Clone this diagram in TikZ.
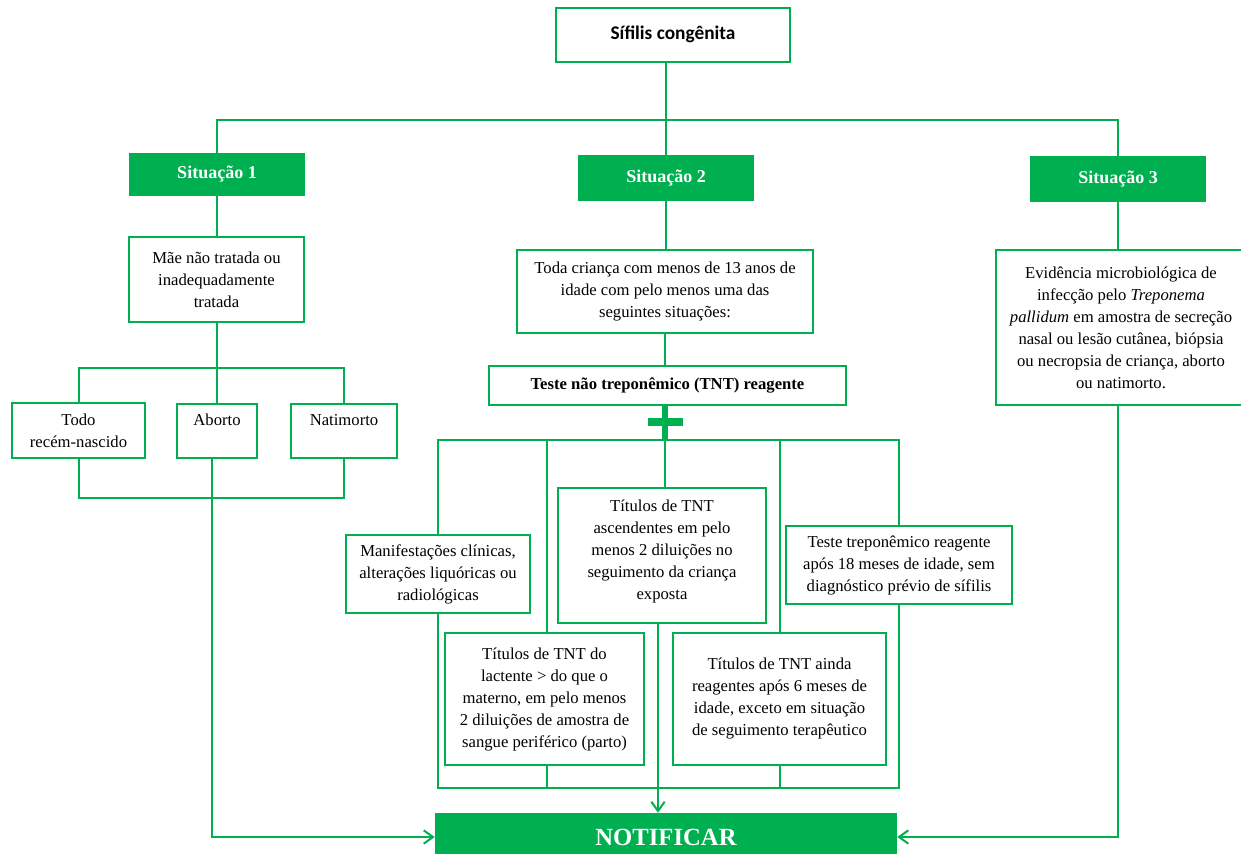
\documentclass[tikz,border=0pt]{standalone}
\usepackage{fontspec}
\setmainfont{Liberation Serif}
\newfontfamily\calib{Carlito}
\usetikzlibrary{arrows.meta,calc}
\definecolor{gr}{HTML}{00B050}
\begin{document}
\begin{tikzpicture}[x=0.75pt,y=-0.75pt,
  box/.style={draw=gr,line width=2.1pt,fill=white,align=center,inner sep=2pt,
    font=\fontsize{12.5}{16.5}\selectfont},
  sit/.style={fill=gr,text=white,align=center,inner sep=0pt,
    font=\bfseries\fontsize{13.5}{16}\selectfont,minimum width=132pt},
  ln/.style={draw=gr,line width=1.5pt},
  arr/.style={ln,-{Straight Barb[length=7pt,width=10pt,line width=1.5pt]}}
]
\clip (0,0) rectangle (1241,853);
\useasboundingbox (0,0) rectangle (1241,853);
\fill[white] (0,0) rectangle (1241,853);

% coordinates for bus lines
\coordinate (h1) at (665,120);
\coordinate (h2) at (218,368);
\coordinate (h3) at (218,498);
\coordinate (h4) at (665,440);
\coordinate (h5) at (665,788);
\coordinate (plus) at (665,422);

% nodes
\node[box,minimum width=175.5pt,minimum height=40.5pt,font=\calib\bfseries\fontsize{14.5}{16}\selectfont] (top) at (673,35) {Sífilis congênita\\[-12pt]\mbox{}};
\node[sit,minimum height=32.25pt] (s1) at (217,174.5) {Situação 1};
\node[sit,minimum height=34.5pt] (s2) at (666,178) {Situação 2};
\node[sit,minimum height=34.5pt] (s3) at (1118,179) {Situação 3};

\node[box,minimum width=131.25pt,minimum height=63.75pt] (mae) at (216.5,279.5) {Mãe não tratada ou\\inadequadamente\\tratada};
\node[box,minimum width=99.75pt,minimum height=41.25pt] (todo) at (78.5,430.5) {Todo\\recém-nascido};
\node[box,minimum width=60pt,minimum height=40.5pt] (aborto) at (217,431) {Aborto\\\mbox{}};
\node[box,minimum width=79.5pt,minimum height=40.5pt] (nati) at (344,431) {Natimorto\\\mbox{}};

\node[box,minimum width=222pt,minimum height=62.25pt] (toda) at (665,291.5) {Toda criança com menos de 13 anos de\\idade com pelo menos uma das\\seguintes situações:};
\node[box,minimum width=267.75pt,minimum height=29.25pt,font=\bfseries\fontsize{12.5}{16.5}\selectfont] (tnt) at (667.5,385.5) {Teste não treponêmico (TNT) reagente};

\node[box,minimum width=187.5pt,minimum height=116.25pt] (evid) at (1121,327.5) {Evidência microbiológica de\\infecção pelo \textit{Treponema}\\\textit{pallidum} em amostra de secreção\\nasal ou lesão cutânea, biópsia\\ou necropsia de criança, aborto\\ou natimorto.};

\node[box,minimum width=138pt,minimum height=58.5pt] (manif) at (438,574) {Manifestações clínicas,\\alterações liquóricas ou\\radiológicas};
\node[box,minimum width=149.25pt,minimum height=99pt] (lact) at (544.5,699) {Títulos de TNT do\\lactente > do que o\\materno, em pelo menos\\2 diluições de amostra de\\sangue periférico (parto)};
\node[box,minimum width=156pt,minimum height=101.25pt] (asc) at (662,555.5) {Títulos de TNT\\ascendentes em pelo\\menos 2 diluições no\\seguimento da criança\\exposta\\[-8pt]\mbox{}};
\node[box,minimum width=169.5pt,minimum height=58.5pt] (trep) at (899,565) {Teste treponêmico reagente\\após 18 meses de idade, sem\\diagnóstico prévio de sífilis};
\node[box,minimum width=159.75pt,minimum height=99pt] (ainda) at (779.5,699) {\mbox{}\\[-8pt]Títulos de TNT ainda\\reagentes após 6 meses de\\idade, exceto em situação\\de seguimento terapêutico};

\node[fill=gr,text=white,minimum width=346.5pt,minimum height=36pt,inner sep=0pt,
  font=\bfseries\fontsize{18.5}{20}\selectfont] (notif) at (666,837) {NOTIFICAR};

% connectors: top level
\draw[ln] (top.south -| s2) -- (s2.north);
\draw[ln] (s1.north) -- (s1.north |- h1) -- (s3.north |- h1) -- (s3.north);

% situation 1
\draw[ln] (s1.south) -- (s1.south |- mae.north);
\draw[ln] (mae.south -| s1) -- (aborto.north -| s1);
\draw[ln] (todo.north) -- (todo.north |- h2) -- (nati.north |- h2) -- (nati.north);
\draw[ln] (todo.south) -- (todo.south |- h3) -- (nati.south |- h3) -- (nati.south);
\draw[arr] ([xshift=-3.75pt]aborto.south) |- (notif.west);

% situation 2
\draw[ln] (s2.south) -- (s2.south |- toda.north);
\draw[ln] (toda.south) -- (toda.south |- tnt.north);
\draw[gr,line width=4pt] (tnt.south -| h4) -- (h4);
\draw[gr,line width=5.5pt] ($(plus)+(-17.5,0)$) -- ($(plus)+(17.5,0)$);
\draw[ln] (manif.north) -- (manif.north |- h4) -- (trep.north |- h4) -- (trep.north);
\draw[ln] ([xshift=2pt]lact.north) -- ([xshift=2pt]lact.north |- h4);
\draw[ln] (asc.north -| h4) -- (h4);
\draw[ln] (ainda.north) -- (ainda.north |- h4);
\draw[ln] (manif.south) -- (manif.south |- h5) -- (trep.south |- h5) -- (trep.south);
\draw[ln] ([xshift=2pt]lact.south) -- ([xshift=2pt]lact.south |- h5);
\draw[ln] (ainda.south) -- (ainda.south |- h5);
\draw[arr] ([xshift=-3pt]asc.south) -- ([xshift=-3pt]asc.south |- notif.north);

% situation 3
\draw[ln] (s3.south) -- (s3.south |- evid.north);
\draw[arr] (evid.south -| s3) |- (notif.east);
\end{tikzpicture}
\end{document}
